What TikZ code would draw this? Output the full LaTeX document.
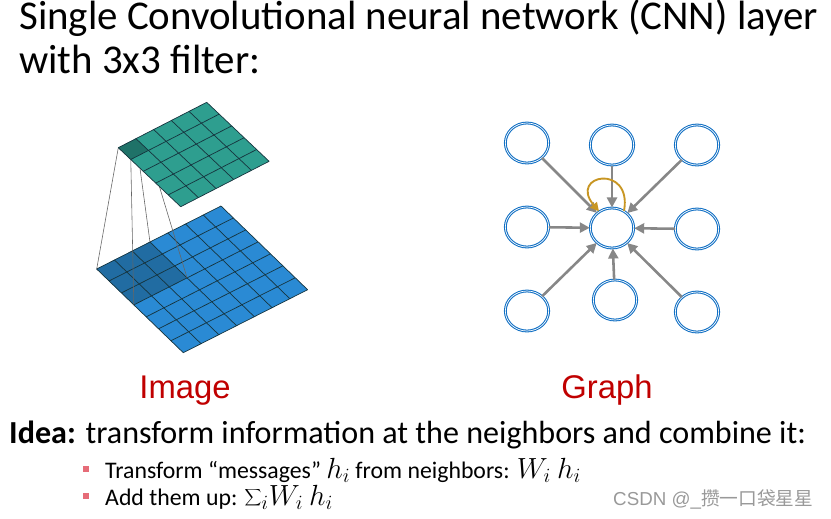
\documentclass[tikz,border=0pt]{standalone}
\usepackage{fontspec}
\setmainfont{Carlito}
\newfontfamily\arialfont{Liberation Sans}
\newfontfamily\cjkfont{Noto Sans CJK SC}
\usetikzlibrary{
	arrows.meta,
	calc,
	positioning,
	shapes.geometric,
}
\definecolor{tealsheet}{RGB}{46,158,143}
\definecolor{tealdark}{RGB}{31,114,104}
\definecolor{bluesheet}{RGB}{42,138,212}
\definecolor{bluedark}{RGB}{33,108,162}
\definecolor{gridline}{RGB}{22,52,62}
\definecolor{nodeblue}{RGB}{18,112,196}
\definecolor{edgegray}{RGB}{135,135,135}
\definecolor{loopgold}{RGB}{200,150,35}
\definecolor{labelred}{RGB}{192,0,0}
\definecolor{bulletred}{RGB}{230,108,120}
\newcommand{\mathbig}[1]{{\fontsize{23}{24}\selectfont$#1$}}
\tikzset{graph node/.style={
	draw=nodeblue,
	double=white,
	double distance=0.6pt,
	line width=0.9pt,
	ellipse,
	inner sep=0mm,
	minimum width=1.3cm,
	minimum height=1.2cm,
}}

\begin{document}
\begin{tikzpicture}[
x=0.03cm,
y=-0.03cm,
every node/.style={inner sep=0mm, anchor=base west},
]
% \draw [help lines] (0,0) grid (831,518);
\useasboundingbox (0,0) rectangle (831,518);

\tikzset{
	big/.style={font=\fontsize{34.9}{40}\selectfont},
	mid/.style={font=\fontsize{27.4}{32}\selectfont},
	small/.style={font=\fontsize{20.3}{24}\selectfont},
	caption/.style={font=\arialfont\fontsize{28}{34}\selectfont, text=labelred, anchor=base},
	sheet/.style={draw=gridline, line width=0.6pt},
	proj/.style={draw=black!60, line width=0.5pt},
	bullet/.style={fill=bulletred, minimum size=0.2cm, anchor=center},
	msg/.style={draw=edgegray, line width=2.2pt, -{Triangle[length=3mm,width=3mm]}},
	selfloop/.style={draw=loopgold, line width=1.6pt, -{Triangle[length=2.6mm,width=2.6mm]}},
}

\node[big] (title1)	at (19,29)	{Single Convolutional neural network (CNN) layer};
\node[big] (title2)	at (19,73)	{with 3x3 filter:};

% input image, 7x7
\coordinate (imgL) at (96.7,269);
\coordinate (imgU) at (124.3,-63);
\coordinate (imgV) at (86.6,83.7);
\fill[bluesheet] (imgL) -- ($(imgL)+(imgU)$) -- ($(imgL)+(imgU)+(imgV)$) -- ($(imgL)+(imgV)$) -- cycle;
\fill[bluedark] (imgL) -- ($(imgL)+3/7*(imgU)$) -- ($(imgL)+3/7*(imgU)+3/7*(imgV)$) -- ($(imgL)+3/7*(imgV)$) -- cycle;
\foreach \k in {0,...,7} {
	\draw[sheet] ($(imgL)+\k/7*(imgV)$) -- ($(imgL)+\k/7*(imgV)+(imgU)$);
	\draw[sheet] ($(imgL)+\k/7*(imgU)$) -- ($(imgL)+\k/7*(imgU)+(imgV)$);
}

% feature map, 5x5
\coordinate (featL) at (118.3,147.7);
\coordinate (featU) at (88.4,-45.4);
\coordinate (featV) at (62.4,59);

\coordinate (fa) at (featL);
\coordinate (fb) at ($(featL)+0.2*(featU)$);
\coordinate (fc) at ($(featL)+0.2*(featV)$);
\coordinate (fd) at ($(featL)+0.2*(featU)+0.2*(featV)$);
\coordinate (ia) at (imgL);
\coordinate (ib) at ($(imgL)+3/7*(imgU)$);
\coordinate (ic) at ($(imgL)+3/7*(imgV)$);
\coordinate (id) at ($(imgL)+3/7*(imgU)+3/7*(imgV)$);

\begin{scope}[proj]
\draw (fa) -- (ia);
\draw (fb) -- (ib);
\draw (fc) -- (ic);
\draw (fd) -- (id);
\end{scope}

\fill[tealsheet] (featL) -- ($(featL)+(featU)$) -- ($(featL)+(featU)+(featV)$) -- ($(featL)+(featV)$) -- cycle;
\fill[tealdark] (fa) -- (fb) -- (fd) -- (fc) -- cycle;
\foreach \k in {0,...,5} {
	\draw[sheet] ($(featL)+\k/5*(featV)$) -- ($(featL)+\k/5*(featV)+(featU)$);
	\draw[sheet] ($(featL)+\k/5*(featU)$) -- ($(featL)+\k/5*(featU)+(featV)$);
}

% graph
\begin{scope}[every node/.style={graph node}]
\node (nw)	at (527,143)	{};
\node (nn)	at (612,145)	{};
\node (ne)	at (697,145)	{};
\node (ww)	at (527,227)	{};
\node (ctr)	at (612,228)	{};
\node (ee)	at (697,229)	{};
\node (sw)	at (527,311)	{};
\node (ss)	at (615,300)	{};
\node (se)	at (697,312)	{};
\end{scope}

\begin{scope}[msg]
\draw (nw) -- (ctr);
\draw (nn) -- (ctr);
\draw (ne) -- (ctr);
\draw (ww) -- (ctr);
\draw (ee) -- (ctr);
\draw (sw) -- (ctr);
\draw (ss) -- (ctr);
\draw (se) -- (ctr);
\end{scope}
\draw[selfloop] (ctr.55) to[out=80, in=130, distance=1.45cm] (ctr.128);

\node[caption] (imgcap)		at (185,398)	{Image};
\node[caption] (graphcap)	at (607,398)	{Graph};

\node[mid] (idea)	at (9,443)	{\textbf{Idea:} transform information at the neighbors and combine it:};
\node[bullet] (b1)	at (86,469)	{};
\node[bullet] (b2)	at (86,496)	{};
\node[small] (item1)	at (105,478)	{Transform “messages” \mathbig{h_i} from neighbors: \mathbig{W_i\ h_i}};
\node[small] (item2)	at (105,505)	{Add them up: \mathbig{\smash{\displaystyle\sum\nolimits_i} W_i\ h_i}};

\node[text=black!40, font=\fontsize{16}{18}\selectfont] (mark) at (613,505) {\arialfont CSDN @\_\cjkfont 攒一口袋星星};

\end{tikzpicture}
\end{document}
